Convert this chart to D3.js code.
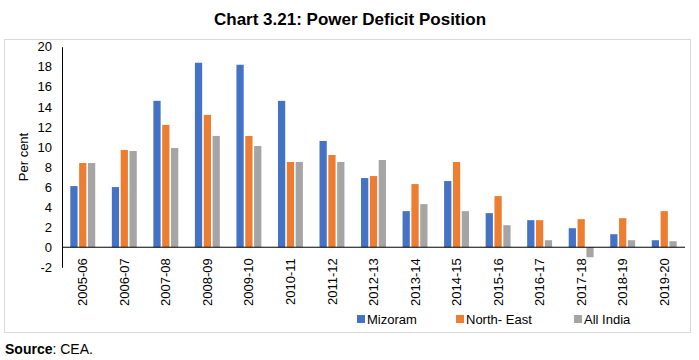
<!DOCTYPE html>
<html><head><meta charset="utf-8">
<script src="https://cdn.jsdelivr.net/npm/d3@7"></script>
<style>body{margin:0;background:#fff;} text{font-family:"Liberation Sans",Arial,sans-serif;fill:#000;}</style>
</head><body>
<svg id="c" width="699" height="360"></svg>
<script>
const categories = ["2005-06","2006-07","2007-08","2008-09","2009-10","2010-11","2011-12","2012-13","2013-14","2014-15","2015-16","2016-17","2017-18","2018-19","2019-20"];
const seriesNames = ["Mizoram","North- East","All India"];
const mizoram   = [6.1, 6.0, 14.6, 18.4, 18.2, 14.6, 10.6, 6.9, 3.6, 6.6, 3.4, 2.7, 1.9, 1.3, 0.7];
const northEast = [8.4, 9.7, 12.2, 13.2, 11.1, 8.5, 9.2, 7.1, 6.3, 8.5, 5.1, 2.7, 2.8, 2.9, 3.6];
const allIndia  = [8.4, 9.6, 9.9, 11.1, 10.1, 8.5, 8.5, 8.7, 4.3, 3.6, 2.2, 0.7, -1.0, 0.7, 0.6];
const yTicks = [-2,0,2,4,6,8,10,12,14,16,18,20];
const colors = ["#4472C4","#ED7D31","#A5A5A5"];

const svg = d3.select("#c");
const series = [mizoram, northEast, allIndia];

svg.append("rect").attr("x",4.5).attr("y",39.5).attr("width",686).attr("height",293)
  .attr("fill","#fff").attr("stroke","#d9d9d9");

svg.append("text").attr("x",350).attr("y",25).attr("text-anchor","middle")
  .style("font-size","17px").style("font-weight","bold").text("Chart 3.21: Power Deficit Position");

const x0 = d3.scaleBand().domain(categories).range([62,685]).paddingInner(0.4).paddingOuter(0.2);
const x1 = d3.scaleBand().domain(seriesNames).range([0, x0.bandwidth()]).paddingInner(0.18);
const y = d3.scaleLinear().domain([-2,20]).range([267.3,46.7]);

// bars
const g = svg.append("g");
categories.forEach((c,i)=>{
  series.forEach((s,j)=>{
    const v = s[i];
    g.append("rect").attr("x", x0(c)+x1(seriesNames[j])).attr("width", x1.bandwidth())
      .attr("y", y(Math.max(0,v))).attr("height", Math.abs(y(v)-y(0))).attr("fill", colors[j]);
  });
});

// y axis
const ya = svg.append("g").attr("transform","translate(62,0)")
  .call(d3.axisLeft(y).tickValues(yTicks).tickFormat(d=>String(d)).tickSize(0).tickPadding(10));
ya.select(".domain").attr("stroke","#000");
ya.selectAll("text").style("font-size","13px").style("font-family","Liberation Sans, Arial, sans-serif").attr("fill","#000");

// x axis at zero
const xa = svg.append("g").attr("transform",`translate(0,${y(0)})`)
  .call(d3.axisBottom(x0).tickSize(0).tickPadding(0));
xa.select(".domain").attr("stroke","#000").attr("d","M62,0H685");
xa.selectAll("text").style("font-size","13px").style("font-family","Liberation Sans, Arial, sans-serif").attr("fill","#000")
  .attr("text-anchor","end").attr("transform","rotate(-90)").attr("x",-11).attr("y",0).attr("dy","0.35em");

svg.append("text").attr("transform","translate(28,157) rotate(-90)").attr("text-anchor","middle")
  .style("font-size","13px").text("Per cent");

// legend
const legX = [357,456,574];
seriesNames.forEach((n,j)=>{
  svg.append("rect").attr("x",legX[j]).attr("y",315).attr("width",8).attr("height",8).attr("fill",colors[j]);
  svg.append("text").attr("x",legX[j]+10).attr("y",324).style("font-size","13px").text(n);
});

const src = svg.append("text").attr("x",5).attr("y",354).style("font-size","14px");
src.append("tspan").style("font-weight","bold").text("Source");
src.append("tspan").text(": CEA.");
</script>
</body></html>
